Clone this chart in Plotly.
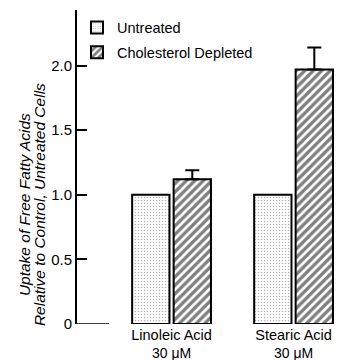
import plotly.graph_objects as go

categories = ["Linoleic Acid", "Stearic Acid"]
concentrations = ["30 μM", "30 μM"]
untreated = [1.0, 1.0]
depleted = [1.12, 1.97]
depleted_err = [0.07, 0.17]
y_ticks = [0, 0.5, 1.0, 1.5, 2.0]
y_tick_text = ["0", "0.5", "1.0", "1.5", "2.0"]
y_title_lines = ["Uptake of Free Fatty Acids", "Relative to Control, Untreated Cells"]

FONT = "Liberation Sans, Arial, sans-serif"

fig = go.Figure()
fig.add_trace(go.Bar(
    x=categories, y=untreated, name="Untreated", legendgroup="a",
    marker=dict(color="white", line=dict(color="black", width=2),
                pattern=dict(shape=".", fgcolor="#666666", bgcolor="white", size=3, solidity=0.2)),
))
fig.add_trace(go.Bar(
    x=categories, y=depleted, name="Cholesterol Depleted", legendgroup="b",
    marker=dict(color="white", line=dict(color="black", width=2),
                pattern=dict(shape="/", fgcolor="black", bgcolor="white", size=6, solidity=0.55)),
    error_y=dict(type="data", array=depleted_err, arrayminus=[0, 0], symmetric=False,
                 color="black", thickness=2, width=7),
))

annotations = []
for i, line in enumerate(y_title_lines):
    annotations.append(dict(
        text="<i>" + line + "</i>", xref="paper", yref="y", x=0, y=0.92,
        xshift=-53 + 15 * i, xanchor="center", yanchor="middle",
        textangle=-90, showarrow=False, font=dict(size=15.5)))
for cat, conc in zip(categories, concentrations):
    annotations.append(dict(
        text=conc, xref="x", yref="paper", x=cat, y=0, yshift=-19,
        xanchor="center", yanchor="top", showarrow=False, font=dict(size=14)))

fig.update_layout(
    width=337, height=360,
    margin=dict(l=77, r=0, t=10, b=36),
    paper_bgcolor="white", plot_bgcolor="white",
    barmode="group", bargap=0.32, bargroupgap=0.1,
    font=dict(family=FONT, size=14, color="black"),
    showlegend=True,
    legend=dict(x=0.0, y=0.995, xanchor="left", yanchor="top",
                bgcolor="rgba(0,0,0,0)", font=dict(size=14.5), itemwidth=30,
                tracegroupgap=3),
    xaxis=dict(range=[-0.775, 1.356], showline=False, ticks="", showgrid=False,
               zeroline=False, tickfont=dict(size=14.5), fixedrange=True,
               ticklabelstandoff=0),
    yaxis=dict(range=[0, 2.43], showline=True, linecolor="black", linewidth=2,
               ticks="inside", ticklen=10, tickwidth=1.5, tickcolor="black",
               tickvals=y_ticks, ticktext=y_tick_text, tickfont=dict(size=15),
               showgrid=False, zeroline=False),
    shapes=[dict(type="line", xref="paper", yref="y", x0=0, x1=0.123, y0=0, y1=0,
                 line=dict(color="black", width=1.5))],
    annotations=annotations,
)

fig.write_html("out.html")
